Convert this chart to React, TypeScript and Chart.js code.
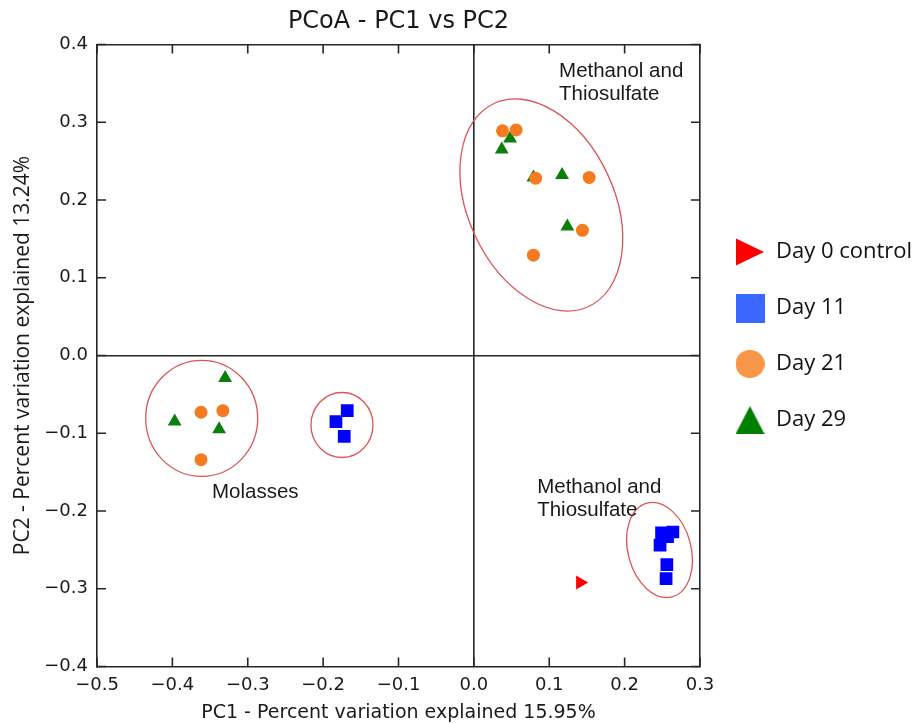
import React, { useEffect, useRef } from 'react';
import { Chart, registerables } from 'chart.js';

Chart.register(...registerables);

// ---------- data ----------
const seriesNames = ['Day 0 control', 'Day 11', 'Day 21', 'Day 29'];

const day0X = [0.141];
const day0Y = [-0.292];

const day11X = [0.249, 0.264, 0.257, 0.247, 0.256, 0.255, -0.168, -0.183, -0.172];
const day11Y = [-0.228, -0.227, -0.233, -0.244, -0.269, -0.287, -0.071, -0.085, -0.104];

const day21X = [0.038, 0.056, 0.082, 0.153, 0.144, 0.079, -0.362, -0.333, -0.362];
const day21Y = [0.289, 0.290, 0.228, 0.229, 0.161, 0.129, -0.073, -0.071, -0.134];

const day29X = [0.048, 0.037, 0.079, 0.117, 0.124, -0.330, -0.397, -0.338];
const day29Y = [0.279, 0.265, 0.229, 0.232, 0.166, -0.029, -0.085, -0.095];

const xTickValues = [-0.5, -0.4, -0.3, -0.2, -0.1, 0.0, 0.1, 0.2, 0.3];
const yTickValues = [-0.4, -0.3, -0.2, -0.1, 0.0, 0.1, 0.2, 0.3, 0.4];

const groupNoteTexts = ['Methanol and\nThiosulfate', 'Methanol and\nThiosulfate', 'Molasses'];
const groupNoteX = [0.113, 0.084, -0.3475];
const groupNoteY = [0.365, -0.170, -0.176];

const ellipseCenterX = [0.0895, 0.2463, -0.3611, -0.175];
const ellipseCenterY = [0.1936, -0.2502, -0.0808, -0.0894];

// ---------- styles ----------
const ellipseShapes = [
  { a: 112, b: 73, rot: 65 },
  { a: 48.5, b: 31.5, rot: 75 },
  { a: 58, b: 56, rot: 90 },
  { a: 32.5, b: 31, rot: 90 },
];
const lineColor = '#262626';
const textColor = '#1a1a1a';

const toPoints = (xs: number[], ys: number[]) => xs.map((x, i) => ({ x, y: ys[i] }));

const fmt = (v: number) => {
  const s = Number(v).toFixed(1);
  return s.startsWith('-') ? '\u2212' + s.slice(1) : s;
};

function makeIcon(shape: string, color: string): HTMLCanvasElement {
  const c = document.createElement('canvas');
  const w = shape === 'triRight' ? 28 : 29;
  const h = shape === 'square' ? 29 : 28;
  c.width = w;
  c.height = h;
  const g = c.getContext('2d')!;
  g.fillStyle = color;
  g.beginPath();
  if (shape === 'triRight') {
    g.moveTo(0, 0.5);
    g.lineTo(w, h / 2);
    g.lineTo(0, h - 0.5);
    g.closePath();
  } else if (shape === 'square') {
    g.rect(0, 0, w, h);
  } else if (shape === 'circle') {
    g.ellipse(w / 2, h / 2, w / 2, h / 2, 0, 0, Math.PI * 2);
  } else {
    g.moveTo(w / 2, 0);
    g.lineTo(w, h);
    g.lineTo(0, h);
    g.closePath();
  }
  g.fill();
  return c;
}

const overlayPlugin = {
  id: 'pcoaOverlay',
  beforeDatasetsDraw(chart: any) {
    const { ctx, scales } = chart;
    const xs = scales.x;
    const ys = scales.y;
    ctx.save();
    ctx.strokeStyle = '#DC5656';
    ctx.lineWidth = 1.3;
    ellipseCenterX.forEach((cx, i) => {
      const s = ellipseShapes[i];
      ctx.beginPath();
      ctx.ellipse(
        xs.getPixelForValue(cx),
        ys.getPixelForValue(ellipseCenterY[i]),
        s.a,
        s.b,
        (s.rot * Math.PI) / 180,
        0,
        Math.PI * 2
      );
      ctx.stroke();
    });
    ctx.restore();
  },
  afterDatasetsDraw(chart: any) {
    const { ctx, scales, chartArea } = chart;
    const xs = scales.x;
    const ys = scales.y;
    ctx.save();
    // inward tick marks
    ctx.strokeStyle = lineColor;
    ctx.lineWidth = 1.6;
    const tl = 9;
    ctx.beginPath();
    xTickValues.forEach((v) => {
      const px = xs.getPixelForValue(v);
      ctx.moveTo(px, chartArea.bottom);
      ctx.lineTo(px, chartArea.bottom - tl);
      ctx.moveTo(px, chartArea.top);
      ctx.lineTo(px, chartArea.top + tl);
    });
    yTickValues.forEach((v) => {
      const py = ys.getPixelForValue(v);
      ctx.moveTo(chartArea.left, py);
      ctx.lineTo(chartArea.left + tl, py);
      ctx.moveTo(chartArea.right, py);
      ctx.lineTo(chartArea.right - tl, py);
    });
    ctx.stroke();
    // group notes
    ctx.fillStyle = textColor;
    ctx.font = '20.5px "Liberation Sans", Arial, sans-serif';
    ctx.textAlign = 'left';
    ctx.textBaseline = 'middle';
    groupNoteTexts.forEach((t, i) => {
      const px = xs.getPixelForValue(groupNoteX[i]);
      const py = ys.getPixelForValue(groupNoteY[i]);
      t.split('\n').forEach((line, k) => ctx.fillText(line, px, py + k * 23));
    });
    ctx.restore();
  },
};

export default function App() {
  const ref = useRef<HTMLCanvasElement | null>(null);

  useEffect(() => {
    if (!ref.current) return;
    const icons = [
      makeIcon('triRight', '#FF0000'),
      makeIcon('square', '#3A68FF'),
      makeIcon('circle', '#F79646'),
      makeIcon('triUp', '#008000'),
    ];

    const tickFont = { family: '"DejaVu Sans", sans-serif', size: 18 };

    const chart = new Chart(ref.current, {
      type: 'scatter',
      data: {
        datasets: [
          {
            label: seriesNames[0],
            data: toPoints(day0X, day0Y),
            pointStyle: 'triangle',
            rotation: 90,
            pointRadius: 8,
            backgroundColor: '#FF0000',
            borderWidth: 0,
          },
          {
            label: seriesNames[1],
            data: toPoints(day11X, day11Y),
            pointStyle: 'rect',
            pointRadius: 9,
            backgroundColor: '#0000FF',
            borderWidth: 0,
          },
          {
            label: seriesNames[2],
            data: toPoints(day21X, day21Y),
            pointStyle: 'circle',
            pointRadius: 6.5,
            backgroundColor: '#F47B20',
            borderWidth: 0,
          },
          {
            label: seriesNames[3],
            data: toPoints(day29X, day29Y),
            pointStyle: 'triangle',
            pointRadius: 8,
            backgroundColor: '#0A800A',
            borderWidth: 0,
          },
        ] as any,
      },
      options: {
        responsive: false,
        animation: false,
        events: [],
        layout: { padding: 0 },
        scales: {
          x: {
            type: 'linear',
            position: 'bottom',
            min: -0.5,
            max: 0.3,
            afterBuildTicks: (s: any) => {
              s.ticks = xTickValues.map((v) => ({ value: v }));
            },
            afterFit: (s: any) => {
              s.height = 57.5;
            },
            grid: {
              drawTicks: false,
              lineWidth: 1.6,
              color: (c: any) => (c.tick && Math.abs(c.tick.value) < 1e-9 ? lineColor : 'rgba(0,0,0,0)'),
            },
            border: { display: true, color: lineColor, width: 1.6 },
            ticks: {
              padding: 8,
              font: tickFont,
              color: textColor,
              autoSkip: false,
              maxRotation: 0,
              callback: (v: any) => fmt(v),
            },
            title: {
              display: true,
              text: 'PC1 - Percent variation explained 15.95%',
              font: { family: '"DejaVu Sans", sans-serif', size: 19, lineHeight: 1.1 },
              padding: { top: 0, bottom: 0 },
              color: textColor,
            },
          },
          y: {
            type: 'linear',
            position: 'left',
            min: -0.4,
            max: 0.4,
            afterBuildTicks: (s: any) => {
              s.ticks = yTickValues.map((v) => ({ value: v }));
            },
            afterFit: (s: any) => {
              s.width = 97;
            },
            grid: {
              drawTicks: false,
              lineWidth: 1.6,
              color: (c: any) => (c.tick && Math.abs(c.tick.value) < 1e-9 ? lineColor : 'rgba(0,0,0,0)'),
            },
            border: { display: true, color: lineColor, width: 1.6 },
            ticks: {
              padding: 9,
              font: tickFont,
              color: textColor,
              autoSkip: false,
              callback: (v: any) => fmt(v),
            },
            title: {
              display: true,
              text: 'PC2 - Percent variation explained 13.24%',
              font: { family: '"Open Sans", sans-serif', size: 21, lineHeight: 1.2 },
              padding: { top: 10, bottom: 0 },
              color: textColor,
            },
          },
          x2: {
            type: 'linear',
            position: 'top',
            min: -0.5,
            max: 0.3,
            ticks: { display: false },
            grid: { display: false, drawTicks: false },
            border: { display: true, color: lineColor, width: 1.6 },
            afterFit: (s: any) => {
              s.height = 4.5;
            },
          },
          y2: {
            type: 'linear',
            position: 'right',
            min: -0.4,
            max: 0.4,
            ticks: { display: false },
            grid: { display: false, drawTicks: false },
            border: { display: true, color: lineColor, width: 1.6 },
            afterFit: (s: any) => {
              s.width = 1;
            },
          },
        } as any,
        plugins: {
          tooltip: { enabled: false },
          title: {
            display: true,
            text: 'PCoA - PC1 vs PC2',
            fullSize: false,
            color: textColor,
            font: { family: '"DejaVu Sans", sans-serif', size: 24, weight: 'normal', lineHeight: 1.25 },
            padding: { top: 7, bottom: 3 },
          },
          legend: {
            display: true,
            position: 'right',
            align: 'start',
            maxWidth: 216,
            title: { display: true, text: '', font: { size: 10, lineHeight: 1 }, padding: { top: 197, bottom: 0 } },
            labels: {
              usePointStyle: true,
              pointStyleWidth: 30,
              padding: 34,
              color: '#111111',
              font: { family: '"Open Sans", sans-serif', size: 22 },
              generateLabels: () =>
                seriesNames.map((name, i) => ({
                  text: name,
                  pointStyle: icons[i] as any,
                  datasetIndex: i,
                  hidden: false,
                  lineWidth: 0,
                  fontColor: '#111111',
                })),
            },
          },
        } as any,
      },
      plugins: [overlayPlugin as any],
    });

    return () => chart.destroy();
  }, []);

  return (
    <div style={{ position: 'fixed', left: 0, top: 0, width: 917, height: 724, background: '#fff' }}>
      <canvas ref={ref} width={917} height={724} style={{ display: 'block' }} />
    </div>
  );
}
